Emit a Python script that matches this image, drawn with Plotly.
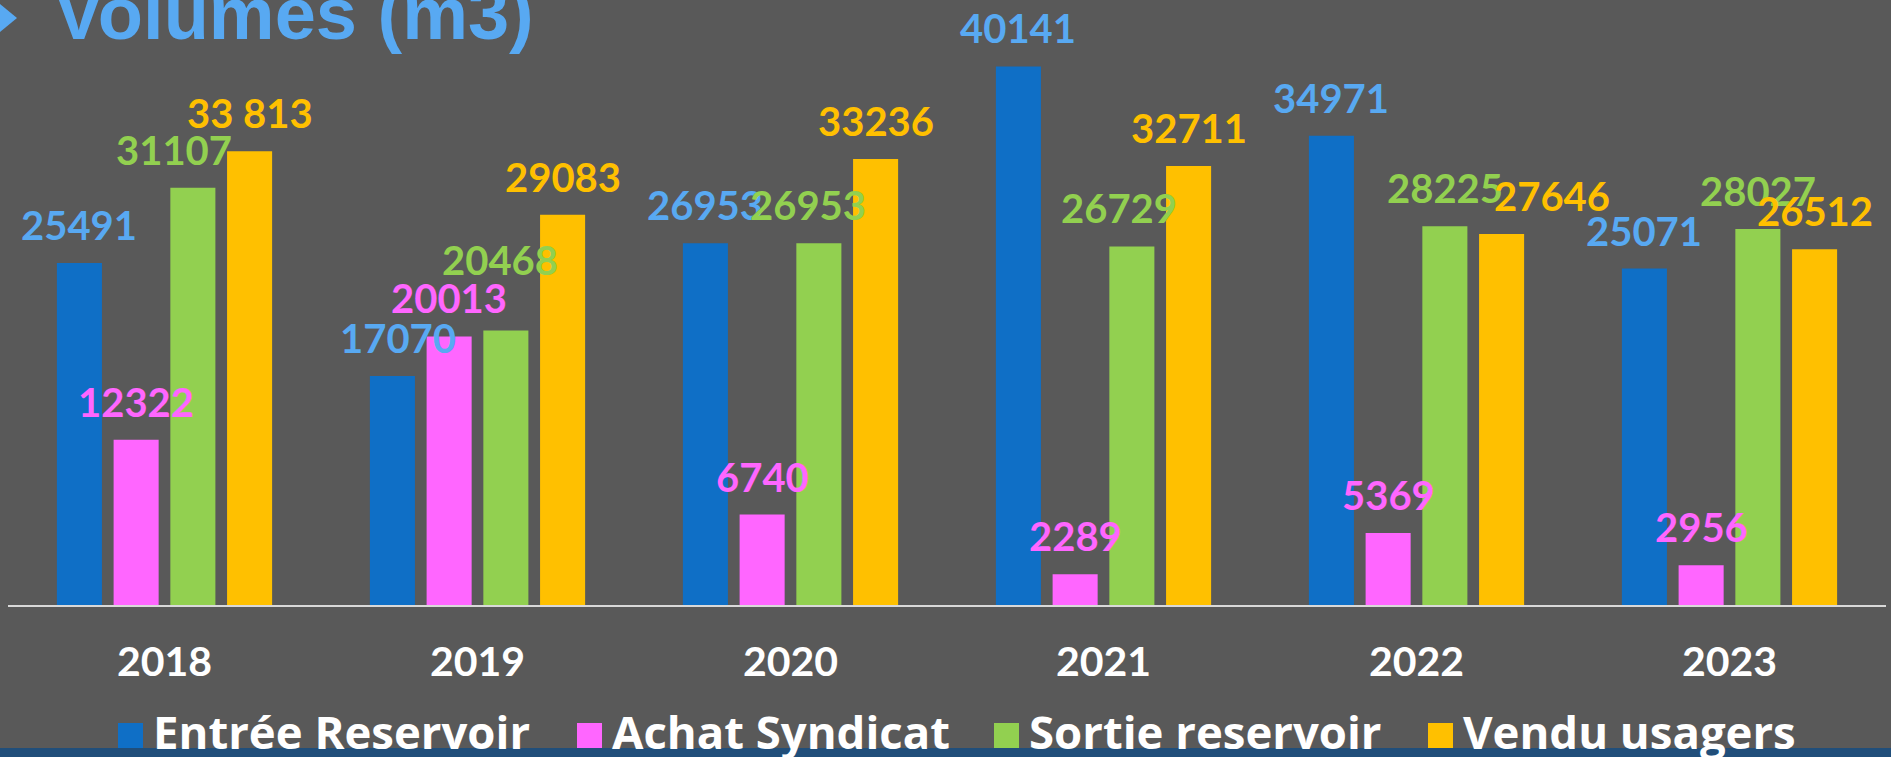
import plotly.graph_objects as go

# ---------------- data ----------------
years = ["2018", "2019", "2020", "2021", "2022", "2023"]
series_names = ["Entrée Reservoir", "Achat Syndicat", "Sortie reservoir", "Vendu usagers"]
entree_reservoir = [25491, 17070, 26953, 40141, 34971, 25071]
achat_syndicat = [12322, 20013, 6740, 2289, 5369, 2956]
sortie_reservoir = [31107, 20468, 26953, 26729, 28225, 28027]
vendu_usagers = [33813, 29083, 33236, 32711, 27646, 26512]
title_text = "Volumes (m3)"

# ---------------- styles ----------------
W, H = 1891, 757
BG = "#595959"
bar_colors = ["#0F6FC6", "#FF66FF", "#92D050", "#FFC000"]
label_colors = ["#58A9F2", "#FF66FF", "#92D050", "#FFC000"]
LABEL_FONT = "Lato, 'Open Sans', sans-serif"
LEGEND_FONT = "'Open Sans', Lato, sans-serif"

# plot area in pixels
PX_L, PX_R = 8, 1886
PX_TOP, PX_BOT = 0, 605
PX_PER_UNIT = 0.013417
BARGAP = 0.275
BARGROUPGAP = 0.206

# label formatting overrides & manual nudges (px) as in the original slide
label_text_override = {(3, 0): "33 813"}
label_nudge_x = {(2, 0): -19, (2, 2): -11, (2, 3): -13, (3, 4): 50, (0, 1): 6, (2, 1): -6}
label_nudge_y = {(2, 1): 32}


def px_x(p):
    return p / W


def px_y(p):
    return 1 - p / H


series_values = [entree_reservoir, achat_syndicat, sortie_reservoir, vendu_usagers]

fig = go.Figure()
for name, vals, col in zip(series_names, series_values, bar_colors):
    fig.add_trace(go.Bar(
        x=years, y=vals, name=name,
        marker=dict(color=col, line=dict(width=0)),
        showlegend=False, hoverinfo="x+y+name",
    ))

# data labels placed above each bar
cat_px = (PX_R - PX_L) / len(years)
slot_px = cat_px * (1 - BARGAP) / len(series_names)
annotations = []
for i, (vals, col) in enumerate(zip(series_values, label_colors)):
    for j, v in enumerate(vals):
        txt = label_text_override.get((i, j), str(v))
        annotations.append(dict(
            x=j, y=v, xref="x", yref="y", text=txt, showarrow=False,
            xanchor="center", yanchor="bottom",
            xshift=(i - 1.5) * slot_px + label_nudge_x.get((i, j), 0),
            yshift=12 + label_nudge_y.get((i, j), 0),
            font=dict(family=LABEL_FONT, size=40, color=col, weight="bold"),
        ))

# title
annotations.append(dict(
    x=px_x(52), y=px_y(14), xref="paper", yref="paper", text=title_text,
    showarrow=False, xanchor="left", yanchor="middle",
    font=dict(family="'Liberation Sans', Arial, sans-serif", size=74, color="#58A9F2", weight="bold"),
))

# custom legend (big square markers like the slide)
legend_x = [118, 577, 994, 1428]
shapes = []
for name, col, lx in zip(series_names, bar_colors, legend_x):
    shapes.append(dict(type="rect", xref="paper", yref="paper",
                       x0=px_x(lx), x1=px_x(lx + 25), y0=px_y(748), y1=px_y(723),
                       fillcolor=col, line=dict(width=0), layer="above"))
    annotations.append(dict(
        x=px_x(lx + 33), y=px_y(731), xref="paper", yref="paper", text=name,
        showarrow=False, xanchor="left", yanchor="middle",
        font=dict(family=LEGEND_FONT, size=45.5, color="white", weight="bold"),
    ))

# bottom band and title bullet
shapes.append(dict(type="rect", xref="paper", yref="paper",
                   x0=0, x1=1, y0=0, y1=px_y(748),
                   fillcolor="#204E7A", line=dict(width=0), layer="below"))
shapes.append(dict(type="path", xref="paper", yref="paper",
                   path=f"M {px_x(0)},{px_y(4)} L {px_x(17)},{px_y(18)} L {px_x(0)},{px_y(32)} Z",
                   fillcolor="#58A9F2", line=dict(width=0)))

fig.update_layout(
    width=W, height=H,
    margin=dict(l=0, r=0, t=0, b=0, pad=0, autoexpand=False),
    paper_bgcolor=BG, plot_bgcolor=BG,
    barmode="group", bargap=BARGAP, bargroupgap=BARGROUPGAP,
    annotations=annotations, shapes=shapes,
    showlegend=False,
    xaxis=dict(
        domain=[px_x(PX_L), px_x(PX_R)],
        type="category", range=[-0.5, len(years) - 0.5], autorange=False,
        automargin=False, showgrid=False, zeroline=False,
        showline=True, linecolor="#D9D9D9", linewidth=2,
        ticks="", ticklabelstandoff=20,
        tickfont=dict(family=LABEL_FONT, size=41, color="white", weight="bold"),
    ),
    yaxis=dict(
        domain=[px_y(PX_BOT), px_y(PX_TOP)],
        range=[0, (PX_BOT - PX_TOP) / PX_PER_UNIT], autorange=False,
        automargin=False, visible=False, showgrid=False, zeroline=False,
    ),
)

fig.write_html(
    "out.html",
    config={"displayModeBar": False},
    post_script="document.body.style.margin='0';document.body.style.background='#595959';",
)
